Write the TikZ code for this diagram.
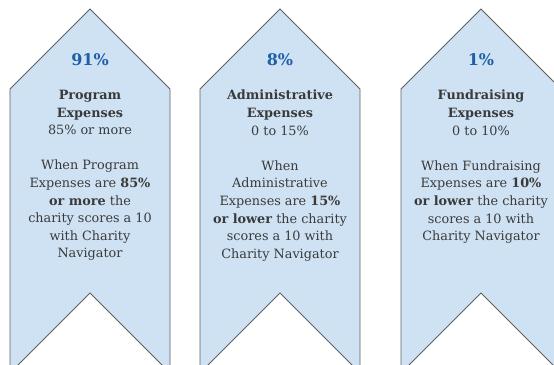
\documentclass[tikz,border=0pt]{standalone}
\usepackage{fontspec}
\setmainfont{DejaVu Serif}
\definecolor{ribfill}{HTML}{CFE2F3}
\definecolor{ribline}{HTML}{5F5F5F}
\definecolor{pctblue}{HTML}{1F5FA8}
\definecolor{txtgray}{HTML}{3A3A3A}
\begin{document}
\begin{tikzpicture}[x=1pt,y=1pt,
  ribbon/.style={fill=ribfill,draw=ribline,line width=0.8pt,line join=miter},
  notch/.style={fill=white,draw=ribline,line width=0.8pt},
  pct/.style={font=\fontsize{16}{19}\selectfont\bfseries,text=pctblue,inner sep=0pt},
  body/.style={font=\fontsize{12.8}{17.6}\selectfont,text=txtgray,align=center,inner sep=0pt,anchor=north}]
\useasboundingbox (0,0) rectangle (554,364);
\begin{scope}
\clip (0,0) rectangle (554,364);
\foreach \cx in {90,280,481}{
  \path[ribbon] (\cx-80,-2) -- (\cx-80,275) -- (\cx,355) -- (\cx+80,275) -- (\cx+80,-2);
  \path[notch] (\cx-73,-2) -- (\cx,71) -- (\cx+73,-2);
}
\end{scope}
\node[pct] (p1) at (90,304) {91\%};
\node[pct] (p2) at (280,304) {8\%};
\node[pct] (p3) at (481,304) {1\%};
\node[body] (t1) at (90,274) {\textbf{Program}\\\textbf{Expenses}\\85\% or more\\[17.6pt]When Program\\Expenses are \textbf{85\%}\\\textbf{or more} the\\charity scores a 10\\with Charity\\Navigator};
\node[body] (t2) at (280,274) {\textbf{Administrative}\\\textbf{Expenses}\\0 to 15\%\\[17.6pt]When\\Administrative\\Expenses are \textbf{15\%}\\\textbf{or lower} the charity\\scores a 10 with\\Charity Navigator};
\node[body] (t3) at (481,274) {\textbf{Fundraising}\\\textbf{Expenses}\\0 to 10\%\\[17.6pt]When Fundraising\\Expenses are \textbf{10\%}\\\textbf{or lower} the charity\\scores a 10 with\\Charity Navigator};
\end{tikzpicture}
\end{document}
